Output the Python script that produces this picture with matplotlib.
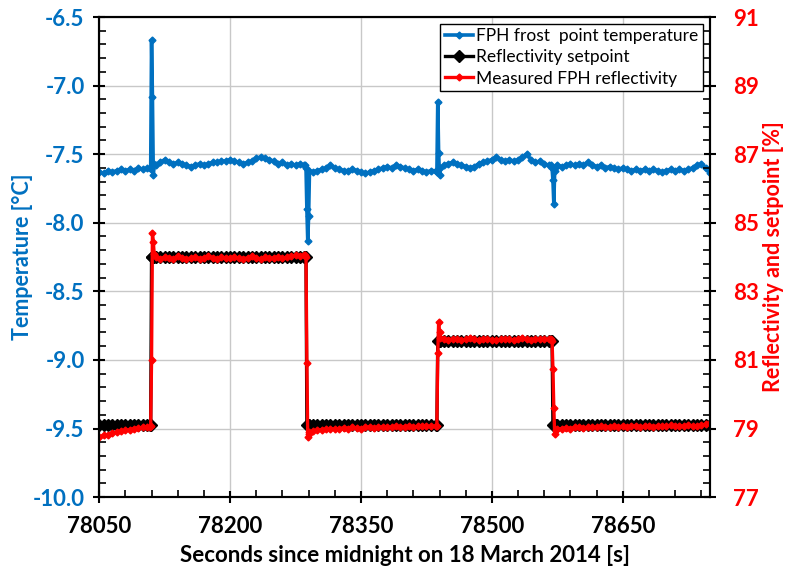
import numpy as np
import matplotlib
matplotlib.use("Agg")
import matplotlib.pyplot as plt
from matplotlib.ticker import FixedLocator, FormatStrFormatter

plt.rcParams['font.family'] = ['Lato', 'DejaVu Sans']
plt.rcParams['axes.unicode_minus'] = False

# sample times: 5 s sampling plus the 1 s samples kept around each setpoint change
t = np.concatenate([
    np.arange(78050, 78106, 5), [78108, 78109, 78110, 78111, 78112, 78113],
    np.arange(78115, 78286, 5), [78286, 78287, 78288, 78289, 78290, 78291],
    np.arange(78295, 78431, 5), [78436, 78437, 78438, 78439, 78440, 78441],
    np.arange(78445, 78566, 5), [78568, 78569, 78570, 78571, 78572, 78573],
    np.arange(78575, 78751, 5),
])

# FPH frost point temperature [degC]
fph_temp = [
    -7.63, -7.64, -7.62, -7.63, -7.62, -7.61, -7.62, -7.61, -7.62, -7.60, -7.61, -7.60,
    -7.60, -7.61, -6.67, -7.08, -7.65, -7.57,
    -7.58, -7.56, -7.54, -7.56, -7.57, -7.56, -7.57, -7.58, -7.59, -7.58,
    -7.57, -7.58, -7.57, -7.56, -7.56, -7.55, -7.55, -7.54, -7.55, -7.56,
    -7.57, -7.56, -7.55, -7.53, -7.52, -7.53, -7.54, -7.55, -7.57, -7.56,
    -7.58, -7.57, -7.58, -7.57, -7.58,
    -7.58, -7.60, -7.90, -8.13, -7.95, -7.62,
    -7.63, -7.62, -7.61, -7.60, -7.58, -7.60, -7.61, -7.62, -7.62, -7.61,
    -7.62, -7.63, -7.64, -7.63, -7.62, -7.61, -7.60, -7.59, -7.60, -7.58,
    -7.59, -7.60, -7.61, -7.62, -7.61, -7.62, -7.63, -7.62,
    -7.62, -7.63, -7.12, -7.49, -7.65, -7.60,
    -7.58, -7.57, -7.56, -7.57, -7.58, -7.59, -7.60, -7.59, -7.57, -7.56,
    -7.55, -7.54, -7.52, -7.54, -7.55, -7.54, -7.55, -7.54, -7.52, -7.50,
    -7.54, -7.56, -7.55, -7.57, -7.58,
    -7.58, -7.60, -7.69, -7.86, -7.62, -7.59,
    -7.58, -7.59, -7.58, -7.57, -7.58, -7.57, -7.58, -7.56, -7.58, -7.59,
    -7.58, -7.60, -7.59, -7.60, -7.61, -7.60, -7.61, -7.62, -7.61, -7.62,
    -7.61, -7.62, -7.61, -7.62, -7.63, -7.62, -7.61, -7.62, -7.61, -7.62,
    -7.61, -7.60, -7.58, -7.57, -7.60, -7.64,
]

# reflectivity setpoint [%]
setpoint = [79.1] * 14 + [84.0] * 41 + [79.1] * 34 + [81.55] * 31 + [79.1] * 40

# measured FPH reflectivity [%]
refl = [
    78.75, 78.80, 78.82, 78.86, 78.90, 78.92, 78.95, 78.97, 79.00, 79.02, 79.03, 79.05,
    79.05, 79.08, 81.0, 84.7, 84.45, 84.1,
    84.0, 83.95, 84.0, 83.97, 83.95, 84.02, 83.98, 83.95, 83.97, 84.0,
    83.95, 83.98, 84.02, 83.97, 83.95, 84.0, 83.98, 83.96, 84.0, 83.97,
    83.95, 83.98, 84.02, 83.97, 83.95, 83.99, 83.96, 83.98, 84.0, 83.97,
    83.99, 84.02, 84.05, 84.03, 84.05,
    84.05, 84.0, 80.9, 78.75, 78.85, 78.9,
    78.92, 78.95, 78.97, 78.98, 79.0, 78.98, 79.0, 79.02, 79.0, 79.03,
    79.02, 79.0, 79.03, 79.05, 79.02, 79.04, 79.05, 79.03, 79.05, 79.06,
    79.04, 79.05, 79.07, 79.05, 79.06, 79.08, 79.06, 79.07,
    79.07, 79.08, 81.2, 82.1, 81.8, 81.65,
    81.6, 81.58, 81.62, 81.6, 81.57, 81.6, 81.63, 81.6, 81.58, 81.6,
    81.62, 81.59, 81.57, 81.6, 81.62, 81.6, 81.58, 81.6, 81.63, 81.6,
    81.58, 81.61, 81.6, 81.62, 81.6,
    81.62, 81.55, 80.75, 79.6, 78.85, 78.95,
    78.98, 79.0, 79.02, 79.0, 79.03, 79.05, 79.02, 79.04, 79.05, 79.03,
    79.06, 79.05, 79.04, 79.06, 79.05, 79.07, 79.05, 79.06, 79.08, 79.05,
    79.06, 79.07, 79.05, 79.08, 79.06, 79.07, 79.09, 79.06, 79.08, 79.07,
    79.1, 79.08, 79.07, 79.1, 79.12, 79.15,
]

x_ticks = [78050, 78200, 78350, 78500, 78650]
temp_ticks = [-10.0, -9.5, -9.0, -8.5, -8.0, -7.5, -7.0, -6.5]
refl_ticks = [77, 79, 81, 83, 85, 87, 89, 91]

blue = '#0070C0'
red = '#FF0000'

fig = plt.figure(figsize=(8.0, 5.78), dpi=100)
ax = fig.add_axes([0.124, 0.140, 0.7635, 0.8305])
ax2 = ax.twinx()

l1, = ax.plot(t, fph_temp, color=blue, lw=2.6, marker='D', ms=3.5,
              label='FPH frost  point temperature')
l2, = ax2.plot(t, setpoint, color='black', lw=2.4, marker='D', ms=6,
               label='Reflectivity setpoint')
l3, = ax2.plot(t, refl, color=red, lw=2.4, marker='D', ms=3.5,
               label='Measured FPH reflectivity')

ax.set_xlim(78050, 78750)
ax.set_ylim(-10.0, -6.5)
ax2.set_ylim(77, 91)

ax.xaxis.set_major_locator(FixedLocator(x_ticks))
ax.xaxis.set_minor_locator(FixedLocator(np.arange(78050, 78751, 30)))
ax.yaxis.set_major_locator(FixedLocator(temp_ticks))
ax.yaxis.set_minor_locator(FixedLocator(np.arange(-10.0, -6.45, 0.1)))
ax.yaxis.set_major_formatter(FormatStrFormatter('%.1f'))
ax2.yaxis.set_major_locator(FixedLocator(refl_ticks))
ax2.yaxis.set_minor_locator(FixedLocator(np.arange(77, 91.1, 0.4)))

ax.grid(True, which='major', color='#c8c8c8', lw=1)
ax.set_axisbelow(True)

for a in (ax, ax2):
    for s in a.spines.values():
        s.set_linewidth(1.5)
        s.set_color('black')
    a.tick_params(which='major', direction='inout', length=9, width=1.5)
    a.tick_params(which='minor', direction='in', length=5, width=1.2)

ax.tick_params(axis='x', labelsize=16, pad=9)
ax.tick_params(axis='y', labelsize=16, labelcolor=blue, pad=6)
ax2.tick_params(axis='y', labelsize=16, labelcolor=red, pad=12)
for lab in ax.get_xticklabels() + ax.get_yticklabels() + ax2.get_yticklabels():
    lab.set_fontweight('bold')

ax.set_xlabel('Seconds since midnight on 18 March 2014 [s]', fontsize=16,
              fontweight='bold', labelpad=6)
ax.set_ylabel('Temperature [°C]', fontsize=15.5, fontweight='bold', color=blue,
              labelpad=0)
ax2.set_ylabel('Reflectivity and setpoint [%]', fontsize=15.5, fontweight='bold',
               color=red, labelpad=3)

leg = ax2.legend(handles=[l1, l2, l3], loc='upper right',
                 bbox_to_anchor=(0.988, 0.986), fontsize=12.5, fancybox=False,
                 framealpha=1, edgecolor='black', handlelength=1.6,
                 handletextpad=0.2, borderpad=0.25, labelspacing=0.3,
                 borderaxespad=0)
leg.get_frame().set_linewidth(1.0)

fig.savefig('out.png', dpi=100)
